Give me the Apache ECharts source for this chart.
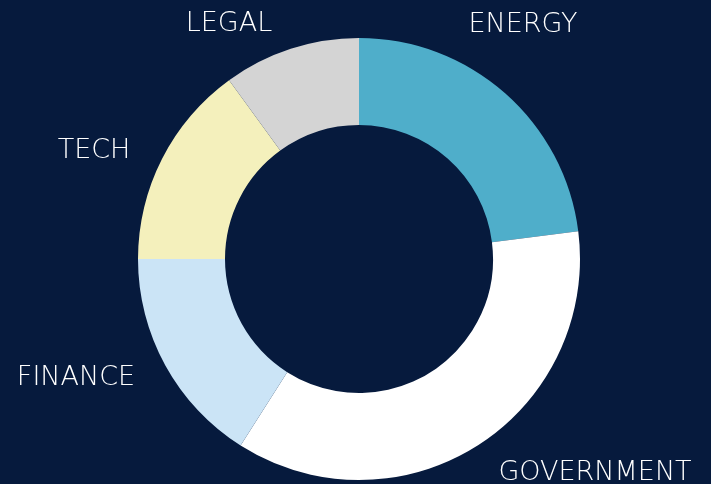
<!DOCTYPE html>
<html>
<head>
<meta charset="utf-8">
<script src="https://cdn.jsdelivr.net/npm/echarts@6/dist/echarts.min.js"></script>
<style>
  html, body { margin: 0; padding: 0; background: #061a3d; }
  #chart { width: 711px; height: 484px; }
</style>
</head>
<body>
<div id="chart"></div>
<script>
// sectors, clockwise from 12 o'clock
const sectors = ['ENERGY', 'GOVERNMENT', 'FINANCE', 'TECH', 'LEGAL'];
const shares = [23, 36, 16, 15, 10];
const sectorColors = ['#4faeca', '#ffffff', '#cbe4f6', '#f4f0bc', '#d4d4d4'];

// where each label sits (centre of text), in px
const labelPos = [[523, 25], [595, 473], [76, 378], [94, 151], [229, 24]];

const chart = echarts.init(document.getElementById('chart'));

const option = {
  backgroundColor: '#061a3d',
  animation: false,
  series: [{
    type: 'pie',
    center: [359, 259],
    radius: [134, 221],
    startAngle: 90,
    clockwise: true,
    avoidLabelOverlap: false,
    data: sectors.map((name, i) => ({
      name: name,
      value: shares[i],
      itemStyle: { color: sectorColors[i] }
    })),
    itemStyle: { borderWidth: 0 },
    label: {
      show: true,
      position: 'outside',
      formatter: '{b}',
      color: '#ffffff',
      fontFamily: 'DejaVu Sans',
      fontWeight: 200,
      fontSize: 27
    },
    labelLine: { show: false },
    labelLayout: function (params) {
      const p = labelPos[params.dataIndex];
      return { x: p[0], y: p[1], align: 'center', verticalAlign: 'middle' };
    },
    emphasis: { disabled: true }
  }]
};

chart.setOption(option);
</script>
</body>
</html>
